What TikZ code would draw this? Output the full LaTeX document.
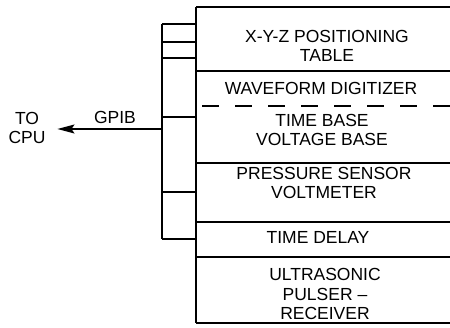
\documentclass[tikz,border=0pt]{standalone}
\usepackage{fontspec}
\setmainfont{Liberation Sans}
\usepackage{tikz}
\usetikzlibrary{arrows.meta}

\begin{document}
\begin{tikzpicture}[x=1pt, y=-1pt, line width=1.1pt]

        \useasboundingbox (0,0) rectangle (450,328);

        % Edges of the instrument stack and of the bus
        \def\stackL{196}
        \def\stackR{450}
        \def\busX{162}

        \tikzset{boxtext/.style={font=\fontsize{17.5}{19.5}\selectfont, align=center, inner sep=0pt}}

        % 1. The stack: left edge and the rules between the instruments
        \draw (\stackL,7) -- (\stackL,323);
        \foreach \y in {7,71,163,222,257,323}
            \draw (\stackL,\y) -- (\stackR,\y);
        % Digitizer and time base share one unit - dashed
        \draw[dash pattern=on 17pt off 16pt, dash phase=-6pt] (\stackL,106) -- (\stackR,106);

        % 2. Instrument names
        \node[boxtext] (xyz)   at (327,46)  {X-Y-Z POSITIONING\\TABLE};
        \node[boxtext] (wave)  at (321,88)  {WAVEFORM DIGITIZER};
        \node[boxtext] (tbase) at (322,130) {TIME BASE\\VOLTAGE BASE};
        \node[boxtext] (pres)  at (324,183) {PRESSURE SENSOR\\VOLTMETER};
        \node[boxtext] (delay) at (318,237) {TIME DELAY};
        \node[boxtext] (ultra) at (325,294) {ULTRASONIC\\PULSER --\\RECEIVER};

        % 3. The bus with its stubs to the stack
        \draw (\busX,24) -- (\busX,239);
        \foreach \y in {24,42,58,117,192,239}
            \draw (\busX,\y) -- (\stackL,\y);

        % 4. Bus out to the CPU
        \coordinate (bus) at (\busX,129);
        \node[boxtext, outer xsep=12pt] (cpu) at (27,128) {TO\\CPU};
        \draw[-{Stealth[length=17pt, width=9pt, inset=3pt]}] (bus) -- (cpu.east |- bus)
            node[boxtext, pos=0.45, above=5pt] (gpib) {GPIB};

\end{tikzpicture}
\end{document}
